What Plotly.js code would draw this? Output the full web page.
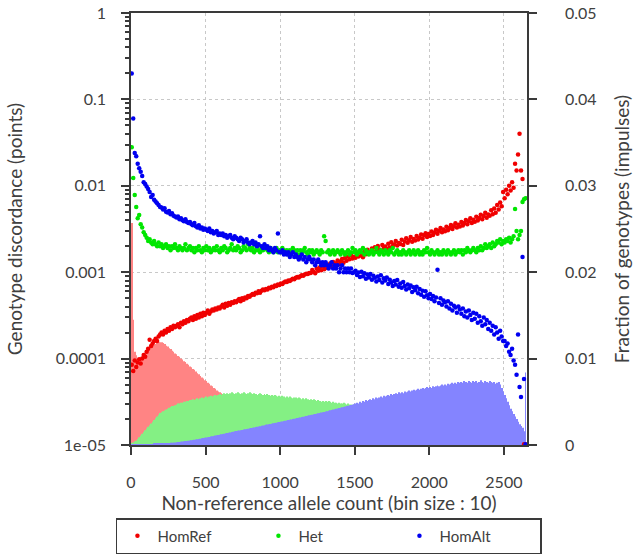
<!DOCTYPE html>
<html>
<head>
<meta charset="utf-8">
<script src="https://cdn.plot.ly/plotly-3.0.1.min.js"></script>
<style>
  html, body { margin: 0; padding: 0; background: #ffffff; }
  #chart { width: 639px; height: 555px; }
</style>
</head>
<body>
<div id="chart"></div>
<script>
// bins of 10 non-reference alleles, centred at 5, 15, ... 2645
const binSize = 10;
const binCount = 265;
const binX = [];
for (let i = 0; i < binCount; i++) binX.push(i * binSize + binSize / 2);

const seriesNames = ['HomRef', 'Het', 'HomAlt'];

// genotype discordance per bin (left, log axis)
const homRefDisc = [
  0.000085, 0.000072, 0.000095, 0.000080, 0.000090, 0.000098, 0.000088, 0.00010, 0.00011, 0.000105,
  0.00012, 0.00013, 0.000165, 0.00014, 0.00015, 0.00016, 0.00017, 0.00016, 0.00018, 0.00019,
  0.00020, 0.00019, 0.00021, 0.00020, 0.00022, 0.00021, 0.00023, 0.00022, 0.00024, 0.00023,
  0.00024, 0.00025, 0.00023, 0.00026, 0.00025, 0.00027, 0.00026, 0.00028, 0.00027, 0.00029,
  0.00030, 0.00028, 0.00031, 0.00029, 0.00032, 0.00030, 0.00033, 0.00031, 0.00034, 0.00032,
  0.00034, 0.00036, 0.00033, 0.00035, 0.00037, 0.00036, 0.00038, 0.00037, 0.00039, 0.00038,
  0.00040, 0.00042, 0.00039, 0.00043, 0.00041, 0.00044, 0.00042, 0.00045, 0.00044, 0.00046,
  0.00045, 0.00047, 0.00049, 0.00046, 0.00050, 0.00048, 0.00051, 0.00050, 0.00053, 0.00052,
  0.00054, 0.00056, 0.00055, 0.00058, 0.00057, 0.00060, 0.00058, 0.00061, 0.00063, 0.00062,
  0.00064, 0.00063, 0.00066, 0.00065, 0.00068, 0.00067, 0.00070, 0.00069, 0.00072, 0.00071,
  0.00074, 0.00073, 0.00076, 0.00078, 0.00077, 0.00080, 0.00079, 0.00082, 0.00084, 0.00083,
  0.00086, 0.00088, 0.00087, 0.00090, 0.00092, 0.00091, 0.00094, 0.00096, 0.00095, 0.00098,
  0.00098, 0.00106, 0.00101, 0.00097, 0.00110, 0.00104, 0.00113, 0.00105, 0.00117, 0.00108,
  0.00112, 0.00121, 0.00114, 0.00126, 0.00118, 0.00131, 0.00120, 0.00127, 0.00137, 0.00124,
  0.00133, 0.00142, 0.00129, 0.00146, 0.00136, 0.00152, 0.00141, 0.00158, 0.00144, 0.00150,
  0.00147, 0.00163, 0.00152, 0.00170, 0.00156, 0.00149, 0.00175, 0.00161, 0.00182, 0.00166,
  0.00172, 0.00188, 0.00169, 0.00195, 0.00178, 0.00201, 0.00183, 0.00176, 0.00206, 0.00190,
  0.00198, 0.00185, 0.00214, 0.00193, 0.00222, 0.00201, 0.00209, 0.00230, 0.00204, 0.00218,
  0.00212, 0.00238, 0.00207, 0.00226, 0.00247, 0.00219, 0.00234, 0.00256, 0.00225, 0.00243,
  0.00232, 0.00262, 0.00239, 0.00251, 0.00274, 0.00244, 0.00268, 0.00283, 0.00255, 0.00276,
  0.00262, 0.00295, 0.00270, 0.00288, 0.00310, 0.00279, 0.00301, 0.00325, 0.00290, 0.00313,
  0.00298, 0.00336, 0.00306, 0.00325, 0.00352, 0.00316, 0.00340, 0.00368, 0.00329, 0.00355,
  0.00338, 0.00382, 0.00347, 0.00370, 0.00401, 0.00358, 0.00389, 0.00420, 0.00372, 0.00405,
  0.00384, 0.00438, 0.00396, 0.00425, 0.00462, 0.00410, 0.00447, 0.00489, 0.00428, 0.00466,
  0.00451, 0.00520, 0.00468, 0.00545, 0.00487, 0.00600, 0.00530, 0.00640, 0.00580, 0.00850,
  0.00720, 0.00900, 0.00800, 0.01000, 0.00880, 0.01100, 0.00950, 0.01800, 0.01500, 0.02300,
  0.04000, 0.01500, 0.01200, 0.0000102, 0.0000102
];
const hetDisc = [
  0.028, 0.0123, 0.0078, 0.0057, 0.0042, 0.0046, 0.0036, 0.0033, 0.0029, 0.0027,
  0.0025, 0.0023, 0.0024, 0.0022, 0.0021, 0.0023, 0.0021, 0.0020, 0.0022, 0.0020,
  0.0021, 0.0019, 0.0020, 0.0021, 0.0019, 0.0020, 0.0018, 0.0020, 0.0019, 0.0021,
  0.0019, 0.0018, 0.0020, 0.0019, 0.0018, 0.0019, 0.0021, 0.0018, 0.0019, 0.0020,
  0.0018, 0.0019, 0.0017, 0.0019, 0.0018, 0.0020, 0.0018, 0.0017, 0.0019, 0.0018,
  0.0020, 0.0018, 0.0019, 0.0017, 0.0018, 0.0019, 0.0018, 0.0020, 0.0018, 0.0017,
  0.0019, 0.0018, 0.0020, 0.0019, 0.0017, 0.0018, 0.0019, 0.0021, 0.0018, 0.0019,
  0.0018, 0.0020, 0.0019, 0.0017, 0.0018, 0.0020, 0.0019, 0.0018, 0.0021, 0.0019,
  0.0018, 0.0019, 0.0017, 0.0018, 0.0020, 0.0018, 0.0017, 0.0019, 0.0018, 0.0020,
  0.0019, 0.0018, 0.0017, 0.0019, 0.0018, 0.0017, 0.0018, 0.0019, 0.0017, 0.0018,
  0.0017, 0.0019, 0.0018, 0.0017, 0.0018, 0.0016, 0.0018, 0.0017, 0.0019, 0.0018,
  0.0017, 0.0018, 0.0016, 0.0018, 0.0017, 0.0018, 0.0019, 0.0017, 0.0016, 0.0018,
  0.0017, 0.0018, 0.0016, 0.0017, 0.0018, 0.0017, 0.0016, 0.0018, 0.0017, 0.0026,
  0.0023, 0.0017, 0.0018, 0.0016, 0.0017, 0.0018, 0.0016, 0.0017, 0.0018, 0.0017,
  0.0016, 0.0018, 0.0017, 0.0016, 0.0017, 0.0018, 0.0016, 0.0017, 0.0019, 0.0017,
  0.0018, 0.0016, 0.0017, 0.0018, 0.0017, 0.0019, 0.0016, 0.0018, 0.0017, 0.0016,
  0.0017, 0.0018, 0.0016, 0.0017, 0.0019, 0.0017, 0.0016, 0.0018, 0.0017, 0.0016,
  0.0018, 0.0017, 0.0016, 0.0018, 0.0017, 0.0019, 0.0016, 0.0017, 0.0018, 0.0016,
  0.0017, 0.0016, 0.0018, 0.0017, 0.0016, 0.0017, 0.0018, 0.0016, 0.0017, 0.0018,
  0.0016, 0.0017, 0.0018, 0.0016, 0.0017, 0.0016, 0.0018, 0.0017, 0.0019, 0.0017,
  0.0016, 0.0018, 0.0017, 0.0016, 0.0017, 0.0018, 0.0016, 0.0017, 0.0016, 0.0018,
  0.0017, 0.0016, 0.0018, 0.0017, 0.0016, 0.0017, 0.0018, 0.0016, 0.0017, 0.0018,
  0.0017, 0.0018, 0.0016, 0.0018, 0.0017, 0.0019, 0.0018, 0.0017, 0.0018, 0.0019,
  0.0018, 0.0017, 0.0019, 0.0018, 0.0020, 0.0018, 0.0019, 0.0021, 0.0019, 0.0020,
  0.0021, 0.0019, 0.0022, 0.0020, 0.0021, 0.0023, 0.0022, 0.0024, 0.0021, 0.0023,
  0.0022, 0.0024, 0.0023, 0.0025, 0.0022, 0.0024, 0.0026, 0.0054, 0.0030, 0.0024,
  0.0027, 0.0030, 0.0065, 0.0070, 0.0072
];
const homAltDisc = [
  0.2, 0.06, 0.024, 0.022, 0.018, 0.016, 0.0145, 0.013, 0.011, 0.0105,
  0.0098, 0.0092, 0.0085, 0.0074, 0.0078, 0.0069, 0.0066, 0.0063, 0.0060, 0.0057,
  0.0056, 0.0053, 0.0055, 0.0050, 0.0049, 0.0051, 0.0047, 0.0048, 0.0045, 0.0044,
  0.0043, 0.0044, 0.0041, 0.0042, 0.0040, 0.0039, 0.0041, 0.0038, 0.0037, 0.0038,
  0.0036, 0.0035, 0.0037, 0.0034, 0.0033, 0.0035, 0.0032, 0.0033, 0.0031, 0.0032,
  0.0031, 0.0030, 0.0032, 0.0029, 0.0030, 0.0028, 0.0029, 0.0030, 0.0027, 0.0028,
  0.0027, 0.0028, 0.0026, 0.0027, 0.0025, 0.0026, 0.0027, 0.0025, 0.0024, 0.0026,
  0.0025, 0.0024, 0.0023, 0.0025, 0.0024, 0.0022, 0.0023, 0.0024, 0.0022, 0.0021,
  0.0022, 0.0023, 0.0021, 0.0022, 0.0020, 0.0021, 0.0026, 0.0020, 0.0019, 0.0021,
  0.0019, 0.0020, 0.0018, 0.0019, 0.0018, 0.0017, 0.0019, 0.0018, 0.0028, 0.0017,
  0.0017, 0.0018, 0.0016, 0.0017, 0.0016, 0.0017, 0.0015, 0.0016, 0.0017, 0.0015,
  0.0016, 0.0015, 0.0014, 0.0015, 0.0016, 0.0014, 0.0015, 0.0013, 0.0014, 0.0015,
  0.0014, 0.0013, 0.0014, 0.0012, 0.0013, 0.0014, 0.0013, 0.0012, 0.0013, 0.0012,
  0.0013, 0.0012, 0.0011, 0.0012, 0.0013, 0.0011, 0.0012, 0.0011, 0.0012, 0.0010,
  0.0011, 0.0012, 0.0010, 0.0011, 0.0010, 0.0011, 0.0010, 0.0011, 0.00098, 0.0010,
  0.00104, 0.00093, 0.00099, 0.00088, 0.00101, 0.00090, 0.00097, 0.00084, 0.00094, 0.00087,
  0.00095, 0.00082, 0.00091, 0.00086, 0.00078, 0.00089, 0.00081, 0.00092, 0.00076, 0.00085,
  0.00080, 0.00087, 0.00073, 0.00082, 0.00076, 0.00069, 0.00079, 0.00072, 0.00081, 0.00068,
  0.00074, 0.00066, 0.00077, 0.00069, 0.00063, 0.00072, 0.00065, 0.00070, 0.00059, 0.00067,
  0.00062, 0.00068, 0.00057, 0.00064, 0.00055, 0.00061, 0.00052, 0.00060, 0.00054, 0.00050,
  0.00056, 0.00049, 0.00053, 0.00046, 0.00051, 0.00107, 0.00044, 0.00050, 0.00042, 0.00047,
  0.00045, 0.00040, 0.00046, 0.00038, 0.00043, 0.00036, 0.00041, 0.00039, 0.00034, 0.00040,
  0.00037, 0.00033, 0.00038, 0.00031, 0.00035, 0.00030, 0.00036, 0.00032, 0.00028, 0.00034,
  0.00029, 0.00033, 0.00026, 0.00031, 0.00027, 0.00024, 0.00030, 0.00025, 0.00028, 0.00022,
  0.00026, 0.00021, 0.00024, 0.00019, 0.00023, 0.00020, 0.00017, 0.00021, 0.00018, 0.00016,
  0.00016, 0.00014, 0.00015, 0.00012, 0.00011, 0.00013, 0.000095, 0.000085, 0.000065, 0.00019,
  0.000047, 0.000036, 0.0015, 0.000058, 0.0000102
];

// fraction of genotypes per bin (right, linear axis)
const homRefFrac = [
  0.0257, 0.0145, 0.0108, 0.0104, 0.0098, 0.0096, 0.0099, 0.0102, 0.0105, 0.0107,
  0.0109, 0.0111, 0.0112, 0.0114, 0.0115, 0.0116, 0.0117, 0.0118, 0.0119, 0.0119,
  0.0119, 0.0118, 0.0117, 0.0115, 0.0114, 0.0112, 0.0111, 0.0109, 0.0108, 0.0106,
  0.0105, 0.0103, 0.0102, 0.0100, 0.0099, 0.0097, 0.0096, 0.0094, 0.0093, 0.0091,
  0.0090, 0.0088, 0.0087, 0.0085, 0.0083, 0.0082, 0.0080, 0.0078, 0.0077, 0.0075,
  0.0074, 0.0072, 0.0071, 0.0069, 0.0068, 0.0066, 0.0065, 0.0063, 0.0062, 0.0061,
  0.0060, 0.0058, 0.0057, 0.0056, 0.0054, 0.0053, 0.0052, 0.0051, 0.0049, 0.0048,
  0.0047, 0.0046, 0.0045, 0.0044, 0.0043, 0.0042, 0.0041, 0.0040, 0.0039, 0.0038,
  0.0037, 0.0036, 0.0035, 0.0034, 0.0033, 0.0033, 0.0032, 0.0031, 0.0030, 0.0029,
  0.0029, 0.0028, 0.0027, 0.0027, 0.0026, 0.0025, 0.0025, 0.0024, 0.0023, 0.0023,
  0.0022, 0.0022, 0.0021, 0.0021, 0.0020, 0.0020, 0.0019, 0.0019, 0.0018, 0.0018,
  0.0017, 0.0017, 0.0016, 0.0016, 0.0016, 0.0015, 0.0015, 0.0014, 0.0014, 0.0014,
  0.0013, 0.0013, 0.0013, 0.0012, 0.0012, 0.0012, 0.0011, 0.0011, 0.0011, 0.0010,
  0.0010, 0.0010, 0.0010, 0.0009, 0.0009, 0.0009, 0.0009, 0.0008, 0.0008, 0.0008,
  0.0008, 0.0007, 0.0007, 0.0007, 0.0007, 0.0007, 0.0006, 0.0006, 0.0006, 0.0006,
  0.0006, 0.0005, 0.0005, 0.0005, 0.0005, 0.0005, 0.0005, 0.0004, 0.0004, 0.0004,
  0.0004, 0.0004, 0.0004, 0.0004, 0.0003, 0.0003, 0.0003, 0.0003, 0.0003, 0.0003,
  0.0003, 0.0003, 0.0003, 0.0003, 0.0003, 0.0002, 0.0002, 0.0002, 0.0002, 0.0002,
  0.0002, 0.0002, 0.0002, 0.0002, 0.0002, 0.0002, 0.0002, 0.0002, 0.0002, 0.0002,
  0.0002, 0.0002, 0.0002, 0.0002, 0.0002, 0.0001, 0.0001, 0.0001, 0.0001, 0.0001
];
const hetFrac = [
  0.0002, 0.0003, 0.0004, 0.0005, 0.0007, 0.0009, 0.0011, 0.0013, 0.0015, 0.0017,
  0.0019, 0.0021, 0.0023, 0.0025, 0.0027, 0.0029, 0.0031, 0.0033, 0.0035, 0.0037,
  0.0038, 0.0039, 0.0040, 0.0041, 0.0042, 0.0043, 0.0044, 0.0045, 0.0045, 0.0046,
  0.0047, 0.0048, 0.0048, 0.0049, 0.0049, 0.0050, 0.0050, 0.0051, 0.0051, 0.0052,
  0.0052, 0.0053, 0.0052, 0.0053, 0.0054, 0.0053, 0.0054, 0.0055, 0.0054, 0.0055,
  0.0056, 0.0055, 0.0056, 0.0057, 0.0056, 0.0057, 0.0058, 0.0057, 0.0058, 0.0059,
  0.0058, 0.0059, 0.0060, 0.0059, 0.0060, 0.0059, 0.0060, 0.0061, 0.0060, 0.0059,
  0.0060, 0.0061, 0.0060, 0.0059, 0.0060, 0.0061, 0.0060, 0.0059, 0.0060, 0.0061,
  0.0060, 0.0059, 0.0060, 0.0059, 0.0058, 0.0059, 0.0060, 0.0059, 0.0058, 0.0059,
  0.0058, 0.0059, 0.0058, 0.0057, 0.0058, 0.0057, 0.0058, 0.0057, 0.0056, 0.0057,
  0.0056, 0.0057, 0.0056, 0.0055, 0.0056, 0.0055, 0.0056, 0.0055, 0.0054, 0.0055,
  0.0055, 0.0054, 0.0055, 0.0054, 0.0053, 0.0054, 0.0053, 0.0054, 0.0053, 0.0052,
  0.0053, 0.0052, 0.0053, 0.0052, 0.0051, 0.0052, 0.0051, 0.0050, 0.0051, 0.0050,
  0.0051, 0.0050, 0.0051, 0.0050, 0.0049, 0.0050, 0.0049, 0.0049, 0.0048, 0.0049,
  0.0048, 0.0048, 0.0049, 0.0048, 0.0047, 0.0048, 0.0047, 0.0047, 0.0046, 0.0047,
  0.0047, 0.0046, 0.0047, 0.0046, 0.0046, 0.0045, 0.0046, 0.0045, 0.0045, 0.0044,
  0.0045, 0.0044, 0.0045, 0.0044, 0.0044, 0.0043, 0.0044, 0.0043, 0.0043, 0.0042,
  0.0043, 0.0042, 0.0043, 0.0042, 0.0042, 0.0041, 0.0042, 0.0041, 0.0041, 0.0040,
  0.0041, 0.0040, 0.0040, 0.0039, 0.0040, 0.0039, 0.0039, 0.0038, 0.0039, 0.0038,
  0.0038, 0.0037, 0.0038, 0.0037, 0.0036, 0.0037, 0.0036, 0.0035, 0.0036, 0.0035,
  0.0035, 0.0034, 0.0034, 0.0033, 0.0033, 0.0032, 0.0032, 0.0031, 0.0030, 0.0030,
  0.0029, 0.0028, 0.0028, 0.0027, 0.0026, 0.0026, 0.0025, 0.0024, 0.0024, 0.0023,
  0.0022, 0.0022, 0.0021, 0.0020, 0.0020, 0.0019, 0.0018, 0.0018, 0.0017, 0.0016,
  0.0016, 0.0015, 0.0015, 0.0014, 0.0013, 0.0013, 0.0012, 0.0012, 0.0011, 0.0011,
  0.0010, 0.0010, 0.0009, 0.0009, 0.0008, 0.0008, 0.0008, 0.0007, 0.0007, 0.0006,
  0.0006, 0.0006, 0.0005, 0.0005, 0.0005, 0.0004, 0.0004, 0.0004, 0.0003, 0.0003,
  0.0003, 0.0002, 0.0002, 0.0001, 0.0001
];
const homAltFrac = [
  0.00002, 0.00003, 0.00003, 0.00004, 0.00004, 0.00005, 0.00005, 0.00006, 0.00006, 0.00007,
  0.00008, 0.00008, 0.00009, 0.00010, 0.00011, 0.00012, 0.00013, 0.00014, 0.00015, 0.00016,
  0.00017, 0.00018, 0.00020, 0.00021, 0.00022, 0.00024, 0.00025, 0.00027, 0.00028, 0.00030,
  0.00032, 0.00034, 0.00036, 0.00038, 0.00040, 0.00042, 0.00045, 0.00047, 0.00050, 0.00052,
  0.00055, 0.00058, 0.00061, 0.00064, 0.00067, 0.00070, 0.00073, 0.00077, 0.00080, 0.00084,
  0.00087, 0.00091, 0.00094, 0.00098, 0.00102, 0.00105, 0.00109, 0.00113, 0.00116, 0.00120,
  0.00124, 0.00128, 0.00131, 0.00135, 0.00139, 0.00143, 0.00146, 0.00150, 0.00154, 0.00158,
  0.00161, 0.00165, 0.00168, 0.00172, 0.00175, 0.00179, 0.00182, 0.00186, 0.00189, 0.00193,
  0.00196, 0.00200, 0.00203, 0.00207, 0.00211, 0.00214, 0.00218, 0.00222, 0.00225, 0.00229,
  0.00233, 0.00236, 0.00240, 0.00244, 0.00247, 0.00251, 0.00255, 0.00258, 0.00262, 0.00266,
  0.00270, 0.00273, 0.00277, 0.00281, 0.00285, 0.00289, 0.00292, 0.00296, 0.00300, 0.00304,
  0.00308, 0.00312, 0.00316, 0.00319, 0.00323, 0.00327, 0.00331, 0.00335, 0.00339, 0.00343,
  0.00347, 0.00351, 0.00355, 0.00359, 0.00363, 0.00367, 0.00371, 0.00375, 0.00379, 0.00383,
  0.00388, 0.00392, 0.00396, 0.00401, 0.00405, 0.00410, 0.00414, 0.00419, 0.00423, 0.00428,
  0.00432, 0.00437, 0.00441, 0.00446, 0.00450, 0.00455, 0.00459, 0.00464, 0.00468, 0.00473,
  0.0048, 0.0049, 0.0048, 0.0050, 0.0049, 0.0051, 0.0050, 0.0052, 0.0051, 0.0052,
  0.0053, 0.0052, 0.0054, 0.0053, 0.0055, 0.0054, 0.0055, 0.0056, 0.0055, 0.0057,
  0.0056, 0.0057, 0.0058, 0.0057, 0.0059, 0.0058, 0.0059, 0.0060, 0.0059, 0.0061,
  0.0060, 0.0061, 0.0060, 0.0062, 0.0061, 0.0062, 0.0063, 0.0062, 0.0063, 0.0064,
  0.0063, 0.0064, 0.0065, 0.0064, 0.0065, 0.0066, 0.0065, 0.0066, 0.0067, 0.0066,
  0.0067, 0.0066, 0.0068, 0.0067, 0.0068, 0.0069, 0.0068, 0.0069, 0.0070, 0.0069,
  0.0070, 0.0069, 0.0071, 0.0070, 0.0071, 0.0072, 0.0071, 0.0072, 0.0071, 0.0073,
  0.0072, 0.0073, 0.0072, 0.0074, 0.0073, 0.0072, 0.0074, 0.0073, 0.0072, 0.0074,
  0.0073, 0.0074, 0.0072, 0.0073, 0.0075, 0.0073, 0.0072, 0.0074, 0.0073, 0.0072,
  0.0074, 0.0073, 0.0072, 0.0073, 0.0071, 0.0072, 0.0073, 0.0070, 0.0066, 0.0062,
  0.0058, 0.0054, 0.0050, 0.0046, 0.0042, 0.0039, 0.0036, 0.0033, 0.0030, 0.0027,
  0.0024, 0.0022, 0.0020, 0.0016, 0.0084
];

const xTicks = [0, 500, 1000, 1500, 2000, 2500];
const discTicks = [0.00001, 0.0001, 0.001, 0.01, 0.1, 1];
const discTickText = ['1e-05', '0.0001', '0.001', '0.01', '0.1', '1'];
const fracTicks = [0, 0.01, 0.02, 0.03, 0.04, 0.05];

const pointColors = ['#f00000', '#00e600', '#0000f0'];
const impulseColors = ['#ff8484', '#84f084', '#8484ff'];

const axisColor = '#3a3a3a';
const textColor = '#404040';
const gridColor = '#c8c8c8';

const impulse = (y, i) => ({
  x: binX.slice(0, y.length),
  y: y,
  type: 'bar',
  width: 6.5,
  yaxis: 'y',
  name: seriesNames[i],
  showlegend: false,
  hoverinfo: 'skip',
  marker: { color: impulseColors[i], line: { width: 0 } }
});

const points = (y, i) => ({
  x: binX,
  y: y,
  type: 'scatter',
  mode: 'markers',
  yaxis: 'y2',
  name: seriesNames[i],
  marker: { color: pointColors[i], size: 4.5 }
});

const data = [
  impulse(homRefFrac, 0), impulse(hetFrac, 1), impulse(homAltFrac, 2),
  points(homRefDisc, 0), points(hetDisc, 1), points(homAltDisc, 2)
];

const layout = {
  width: 639,
  height: 555,
  margin: { l: 131, r: 112, t: 13, b: 110, autoexpand: false },
  paper_bgcolor: '#ffffff',
  plot_bgcolor: '#ffffff',
  font: { family: 'Lato, "Open Sans", sans-serif', size: 16, color: textColor },
  barmode: 'overlay',
  showlegend: true,
  legend: {
    orientation: 'h',
    x: -0.038, xanchor: 'left',
    y: -0.169, yanchor: 'top',
    bordercolor: axisColor, borderwidth: 1.5,
    entrywidth: 96, entrywidthmode: 'pixels',
    font: { size: 15, color: textColor }
  },
  xaxis: {
    range: [0, 2655],
    tickvals: xTicks,
    ticks: 'outside', ticklen: 8, tickcolor: axisColor, tickwidth: 1.5,
    ticklabelstandoff: 14,
    showline: true, linecolor: axisColor, linewidth: 1.5, mirror: true,
    showgrid: true, gridcolor: gridColor, griddash: 'dot', gridwidth: 1,
    zeroline: false,
    title: { text: 'Non-reference allele count (bin size : 10)', standoff: 7 }
  },
  yaxis: {
    side: 'right',
    range: [0, 0.05],
    tickvals: fracTicks,
    ticks: 'outside', ticklen: 8, tickcolor: axisColor, tickwidth: 1.5,
    ticklabelstandoff: 25,
    showline: true, linecolor: axisColor, linewidth: 1.5,
    showgrid: false, zeroline: false,
    title: { text: 'Fraction of genotypes (impulses)', standoff: 20 }
  },
  yaxis2: {
    type: 'log',
    side: 'left',
    overlaying: 'y',
    range: [-5, 0],
    tickvals: discTicks,
    ticktext: discTickText,
    ticks: 'outside', ticklen: 8, tickcolor: axisColor, tickwidth: 1.5,
    ticklabelstandoff: 12,
    minor: { ticks: 'outside', ticklen: 4, tickcolor: axisColor, dtick: 'D1', showgrid: false },
    showline: true, linecolor: axisColor, linewidth: 1.5,
    showgrid: true, gridcolor: gridColor, griddash: 'dot', gridwidth: 1,
    zeroline: false,
    title: { text: 'Genotype discordance (points)', standoff: 28 }
  }
};

Plotly.newPlot('chart', data, layout, { displayModeBar: false, responsive: false });
</script>
</body>
</html>
